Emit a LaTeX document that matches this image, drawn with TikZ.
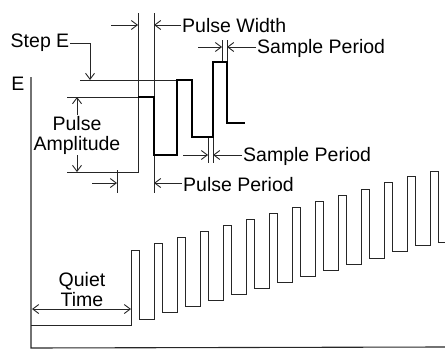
\documentclass[tikz,border=0pt]{standalone}
\usepackage{fontspec}
\setmainfont{Liberation Sans}
\usetikzlibrary{arrows.meta,calc,positioning}
\tikzset{
    wave axis/.style={line width=1.1pt, black!85},
    wave thin/.style={line width=1pt, black!85, line join=miter},
    wave pulse/.style={line width=2.6pt, black, line join=miter},
    dim line/.style={line width=0.9pt, black!85},
    dim arrow/.style={-{Straight Barb[length=6pt,width=9pt]}, line width=0.9pt, black!85},
    dim both/.style={{Straight Barb[length=6pt,width=9pt]}-{Straight Barb[length=6pt,width=9pt]}, line width=0.9pt, black!85},
    dim label/.style={
        font=\fontsize{19.5}{20}\selectfont,
        inner sep=1pt,
        align=center
    }
}

\begin{document}
\begin{tikzpicture}[x=1pt,y=-1pt]
    \useasboundingbox (0,0) rectangle (445,364);

    \node[dim label, anchor=base west] (pw) at (181,32) {Pulse Width};
    \node[dim label, anchor=base west] (spt) at (256,53) {Sample Period};
    \node[dim label, anchor=base west] (spb) at (242,161) {Sample Period};
    \node[dim label, anchor=base west] (pp) at (182,191) {Pulse Period};
    \node[dim label] (pa) at (77,135) {Pulse\\Amplitude};
    \node[dim label] (stepe) at (40,43) {Step E};
    \node[dim label] (eaxis) at (18,84) {E};
    \node[dim label] (qt) at (82,290) {Quiet\\Time};

    \coordinate (pwL) at (138,25);
    \coordinate (pwR) at (154,25);
    \coordinate (sptL) at (222,47);
    \coordinate (sptR) at (227,47);
    \coordinate (spbL) at (208,155);
    \coordinate (spbR) at (213,155);
    \coordinate (ppL) at (117,183);
    \coordinate (ppR) at (154,183);
    \coordinate (paT) at (77,97);
    \coordinate (paB) at (77,172);
    \coordinate (stepT) at (90,80);
    \coordinate (qtL) at (32,309);
    \coordinate (qtR) at (131,309);

    \draw[wave axis] (31,77) -- (31,348) -- (445,347);
    \draw[dim line] (138,13) -- (138,172) -- (67,172);
    \draw[dim line] (154,13) -- (154,193);
    \draw[dim line] (117,170) -- (117,193);
    \draw[dim line] (67,97) -- (138,97);
    \draw[dim line] (80,80) -- (177,80);
    \draw[dim line] (222,40) -- (222,62);
    \draw[dim line] (227,40) -- (227,62);
    \draw[dim line] (208,137) -- (208,163);
    \draw[dim line] (213,137) -- (213,163);

    \draw[wave pulse] (138,97) -- (154,97) -- (154,155) -- (177,155) -- (177,80)
        -- (192,80) -- (192,137) -- (213,137) -- (213,62) -- (227,62)
        -- (227,123) -- (245,123);

    \draw[dim arrow] ($(pwL)+(-27,0)$) -- (pwL);
    \draw[dim arrow] (pw.west |- pwR) -- (pwR);
    \draw[dim arrow] ($(sptL)+(-24,0)$) -- (sptL);
    \draw[dim arrow] (spt.west |- sptR) -- (sptR);
    \draw[dim arrow] ($(spbL)+(-25,0)$) -- (spbL);
    \draw[dim arrow] (spb.west |- spbR) -- (spbR);
    \draw[dim arrow] ($(ppL)+(-25,0)$) -- (ppL);
    \draw[dim arrow] (pp.west |- ppR) -- (ppR);
    \draw[dim arrow] (pa.north) -- (paT);
    \draw[dim arrow] (pa.south) -- (paB);
    \draw[dim arrow] (stepe.east) -- (stepe.east -| stepT) -- (stepT);

    \draw[wave thin] (31,325) -- (131,325)
        \foreach \k in {0,...,12} {
            -- ({131+23*\k},{250-6.1*\k}) -- ({139.5+23*\k},{250-6.1*\k})
            -- ({139.5+23*\k},{319-6.1*\k}) -- ({154+23*\k},{319-6.1*\k})
        }
        -- (430,171) -- (438.5,171) -- (438.5,242) -- (445,242);
    \draw[dim both] (qtL) -- (qtR);
\end{tikzpicture}
\end{document}
